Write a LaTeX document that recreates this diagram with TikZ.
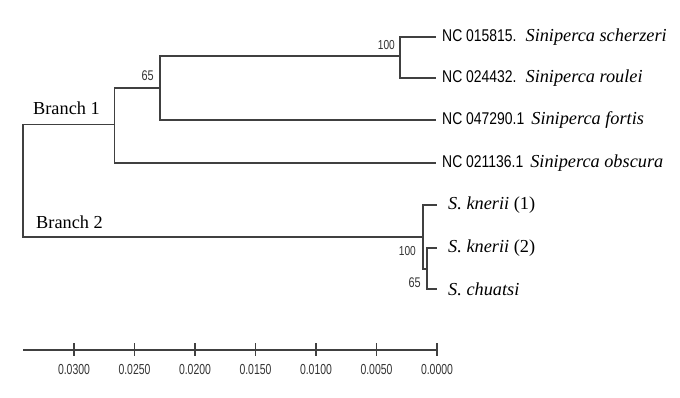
\documentclass[tikz,border=0pt]{standalone}
\usepackage{fontspec}
\setmainfont{Liberation Serif}
\newfontfamily\narrowsf[FakeStretch=0.82]{Liberation Sans}
\newfontfamily\bootsf[FakeStretch=0.78]{Liberation Sans}
\newfontfamily\tinysf[FakeStretch=0.72]{Liberation Sans}
\begin{document}
\begin{tikzpicture}[x=1pt,y=-1pt,
  edge/.style={draw=black!75,line width=1.4pt},
  leaflabel/.style={anchor=west,inner sep=0pt,font=\fontsize{18.3}{20}\selectfont},
  boot/.style={anchor=east,inner sep=0pt,font=\bootsf\fontsize{13}{14}\selectfont,text=black!80},
  bootbig/.style={boot,font=\bootsf\fontsize{14}{15}\selectfont},
  branchlabel/.style={anchor=west,inner sep=0pt,font=\fontsize{18.3}{20}\selectfont},
  ticklabel/.style={inner sep=0pt,font=\tinysf\fontsize{14.5}{16}\selectfont,text=black!80}]
\useasboundingbox (0,0) rectangle (680,398);
% tree nodes
\coordinate (R) at (23,181);
\coordinate (N1) at (114.5,124.5);
\coordinate (N2) at (160,88);
\coordinate (N3) at (400,56);
\coordinate (N4) at (423,237);
\coordinate (N5) at (427,269);
\coordinate (L1) at (436,37);
\coordinate (L2) at (436,78);
\coordinate (L3) at (436,120);
\coordinate (L4) at (436,163);
\coordinate (L5) at (437,205);
\coordinate (L6) at (437,248);
\coordinate (L7) at (437,289);
% edges
\draw[edge] (R) |- (N1);
\draw[edge] (R) |- (N4);
\draw[edge] (N1) |- (N2);
\draw[edge] (N1) |- (L4);
\draw[edge] (N2) |- (N3);
\draw[edge] (N2) |- (L3);
\draw[edge] (N3) |- (L1);
\draw[edge] (N3) |- (L2);
\draw[edge] (N4) |- (L5);
\draw[edge] (N4) |- (N5);
\draw[edge] (N5) |- (L6);
\draw[edge] (N5) |- (L7);
% leaf labels
\node[leaflabel] (t1) at ([xshift=6]L1) {{\narrowsf\fontsize{17}{19}\selectfont NC 015815.}\hspace{9pt}\textit{Siniperca scherzeri}};
\node[leaflabel] (t2) at ([xshift=6]L2) {{\narrowsf\fontsize{17}{19}\selectfont NC 024432.}\hspace{9pt}\textit{Siniperca roulei}};
\node[leaflabel] (t3) at ([xshift=6]L3) {{\narrowsf\fontsize{17}{19}\selectfont NC 047290.1}\hspace{7pt}\textit{Siniperca fortis}};
\node[leaflabel] (t4) at ([xshift=6]L4) {{\narrowsf\fontsize{17}{19}\selectfont NC 021136.1}\hspace{7pt}\textit{Siniperca obscura}};
\node[leaflabel] (t5) at ([xshift=11]L5) {\textit{S. knerii} (1)};
\node[leaflabel] (t6) at ([xshift=11]L6) {\textit{S. knerii} (2)};
\node[leaflabel] (t7) at ([xshift=11]L7) {\textit{S. chuatsi}};
% bootstrap values
\node[boot] (b1) at (395,45.5) {100};
\node[bootbig] (b2) at (154,76) {65};
\node[boot] (b3) at (416,251.5) {100};
\node[bootbig] (b4) at (421,283) {65};
% branch labels
\node[branchlabel] (br1) at (33,108) {Branch 1};
\node[branchlabel] (br2) at (36,222) {Branch 2};
% scale bar
\coordinate (S0) at (23,350);
\coordinate (S1) at (437,350);
\draw[edge,line width=1.2pt] (S0) -- (S1);
\foreach \k/\lab in {0/0.0000,1/0.0050,2/0.0100,3/0.0150,4/0.0200,5/0.0250,6/0.0300}{
  \draw[edge,line width=1.2pt] (437-60.5*\k,343) -- (437-60.5*\k,356);
  \node[ticklabel] (tk\k) at (437-60.5*\k,370) {\lab};
}
\end{tikzpicture}
\end{document}
